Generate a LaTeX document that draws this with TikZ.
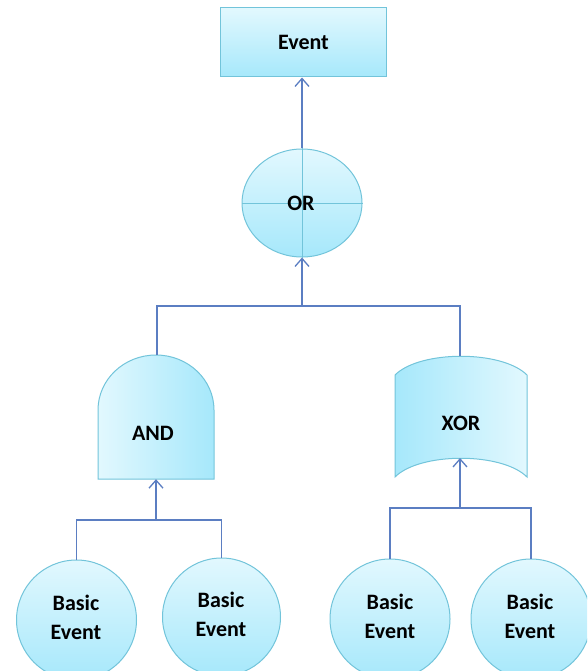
\documentclass[tikz,border=0pt]{standalone}
\usepackage{fontspec}
\setmainfont{Carlito}
\usetikzlibrary{arrows.meta,shapes.geometric}
\definecolor{fillLight}{HTML}{E2F8FE}
\definecolor{fillDark}{HTML}{A6E8FB}
\definecolor{rim}{HTML}{72C4DA}
\definecolor{wire}{HTML}{5B7EC2}
\tikzset{
  lbl/.style={font=\fontsize{22}{29}\selectfont\bfseries, align=center, text=black},
  eventbox/.style={lbl, draw=rim, line width=1pt, top color=fillLight, bottom color=fillDark,
    minimum width=166pt, minimum height=69pt, inner sep=0pt},
  orgate/.style={lbl, ellipse, draw=rim, line width=1pt, top color=fillLight, bottom color=fillDark,
    minimum width=120pt, minimum height=108pt, inner sep=0pt},
  basic/.style={circle, draw=rim, line width=1pt, top color=fillLight, bottom color=fillDark,
    minimum size=120pt, inner sep=0pt},
  gateshape/.style={draw=rim, line width=1pt},
  wirestyle/.style={draw=wire, line width=1.3pt},
  feed/.style={wirestyle, -{Straight Barb[length=8pt,width=14pt,line width=1.3pt]}},
}
\begin{document}
\begin{tikzpicture}[x=1pt,y=-1pt]
  \useasboundingbox (0,0) rectangle (587,671);
  \clip (0,0) rectangle (587,671);

  % top event
  \node[eventbox] (ev) at (303.5,42.5) {Event};

  % OR gate with its cross
  \node[orgate] (or) at (302,203) {};
  \draw[rim, line width=1pt] (or.west) -- (or.east) (or.north) -- (or.south);
  \node[lbl] (orlbl) at (301,203) {OR};

  % AND gate: flat bottom, dome top
  \shade[left color=fillLight, right color=fillDark] (98,479) -- (98,410)
    arc[start angle=180, end angle=360, x radius=58, y radius=55] -- (214,479) -- cycle;
  \draw[gateshape] (98,479) -- (98,410)
    arc[start angle=180, end angle=360, x radius=58, y radius=55] -- (214,479) -- cycle;
  \node[inner sep=0pt, minimum width=116pt, minimum height=124pt] (and) at (156,417) {};
  \node[lbl] (andlbl) at (153,433) {AND};

  % XOR gate: curved top and curved bottom
  \shade[left color=fillDark, right color=fillLight] (395,375)
    .. controls (420,350) and (502,350) .. (527,375) -- (527,477)
    .. controls (502,452) and (420,452) .. (395,477) -- cycle;
  \draw[gateshape] (395,375)
    .. controls (420,350) and (502,350) .. (527,375) -- (527,477)
    .. controls (502,452) and (420,452) .. (395,477) -- cycle;
  \node[inner sep=0pt, minimum width=132pt, minimum height=121pt] (xor) at (461,416.5) {};
  \node[lbl] (xorlbl) at (461,423) {XOR};
  \coordinate (xorin) at (460,458);

  % basic events
  \node[basic] (b1) at (76.5,620) {};
  \node[basic, minimum size=118pt] (b2) at (221.5,617) {};
  \node[basic] (b3) at (390,619) {};
  \node[basic] (b4) at (531,619) {};
  \node[lbl] (b1lbl) at (76,617) {Basic\\Event};
  \node[lbl] (b2lbl) at (221,614.5) {Basic\\Event};
  \node[lbl] (b3lbl) at (390,616) {Basic\\Event};
  \node[lbl] (b4lbl) at (530,616) {Basic\\Event};

  % connectors
  \coordinate (orbus) at (302,306);
  \coordinate (andbus) at (156,520);
  \coordinate (xorbus) at (460,508);

  \draw[feed] (or.north) -- (or.north |- ev.south);
  \draw[wirestyle] (157,355) |- (orbus) -| (460,356);
  \draw[feed] (orbus) -- (or.south);

  \draw[wirestyle] (b1.north) |- (andbus) -| (b2.north);
  \draw[feed] (andbus) -- (and.south);

  \draw[wirestyle] (b3.north) |- (xorbus) -| (b4.north);
  \draw[feed] (xorbus) -- (xorin);
\end{tikzpicture}
\end{document}
